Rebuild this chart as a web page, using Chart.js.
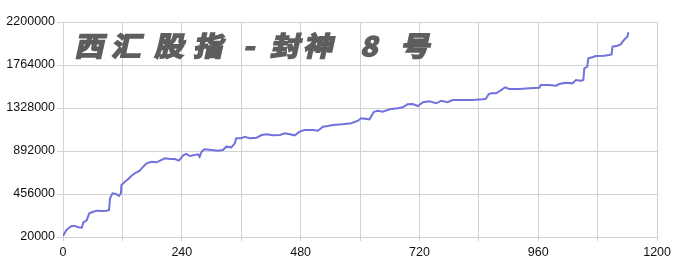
<!DOCTYPE html>
<html>
<head>
<meta charset="utf-8">
<script src="https://cdn.jsdelivr.net/npm/chart.js@4"></script>
<style>
  html, body { margin: 0; padding: 0; background: #fff; }
  #wrap { width: 675px; height: 264px; }
</style>
</head>
<body>
<div id="wrap"><canvas id="grafico" width="675" height="264"></canvas></div>
<script>
// dados
const dias = [0, 7, 17, 24, 31, 38, 41, 48, 53, 61, 68, 78, 88, 93, 95, 100, 107, 113, 117, 118,
  125, 132, 138, 145, 155, 162, 169, 179, 189, 196, 206, 216, 226, 234, 243, 249, 256, 273, 276, 280,
  286, 300, 313, 323, 330, 340, 347, 350, 360, 367, 377, 391, 401, 411, 424, 438, 448, 458, 468, 478,
  488, 505, 515, 525, 535, 545, 565, 582, 596, 602, 619, 628, 636, 646, 660, 676, 686, 696, 706, 717,
  727, 740, 754, 764, 777, 787, 807, 827, 848, 854, 860, 865, 875, 885, 893, 901, 922, 942, 962, 965,
  982, 996, 1002, 1016, 1029, 1036, 1046, 1051, 1053, 1059, 1061, 1069, 1076, 1093, 1103, 1108, 1110, 1120, 1127, 1130,
  1135, 1140, 1142];
const patrimonio = [30000, 91000, 131000, 131000, 118000, 114000, 165000, 192000, 260000, 276000, 287000, 284000, 287000, 294000, 412000, 463000, 456000, 436000, 463000, 547000,
  581000, 608000, 638000, 666000, 692000, 733000, 767000, 783000, 777000, 794000, 818000, 811000, 811000, 794000, 848000, 862000, 841000, 858000, 834000, 885000,
  909000, 902000, 895000, 902000, 936000, 929000, 970000, 1021000, 1021000, 1037000, 1021000, 1027000, 1054000, 1061000, 1051000, 1054000, 1071000, 1061000, 1051000, 1088000,
  1105000, 1105000, 1098000, 1138000, 1145000, 1156000, 1163000, 1173000, 1199000, 1224000, 1213000, 1290000, 1301000, 1290000, 1315000, 1325000, 1335000, 1365000, 1369000, 1348000,
  1386000, 1396000, 1376000, 1402000, 1386000, 1409000, 1409000, 1409000, 1416000, 1422000, 1470000, 1477000, 1477000, 1510000, 1538000, 1521000, 1521000, 1528000, 1534000, 1561000,
  1561000, 1554000, 1571000, 1584000, 1578000, 1612000, 1605000, 1612000, 1731000, 1747000, 1832000, 1842000, 1855000, 1858000, 1865000, 1872000, 1950000, 1960000, 1974000, 2000000,
  2028000, 2051000, 2096000];

const ticksX = [0, 120, 240, 360, 480, 600, 720, 840, 960, 1080, 1200];
const rotulosX = [0, 240, 480, 720, 960, 1200];
const ticksY = [20000, 456000, 892000, 1328000, 1764000, 2200000];
const titulo = ['西', '汇', '股', '指', '-', '封', '神', '8', '号'];

const corGrade = '#d2d2d2';

// titulo desenhado como marca d'agua por cima da area do grafico
const tituloPlugin = {
  id: 'titulo',
  afterDatasetsDraw(chart) {
    const c = chart.ctx;
    const centros = [91, 128, 171, 210, 251, 287, 320, 371, 417];
    c.save();
    c.fillStyle = '#5e5e5e';
    c.strokeStyle = '#5e5e5e';
    c.lineWidth = 1.8;
    c.textAlign = 'center';
    c.textBaseline = 'middle';
    c.font = 'bold 27px "Noto Sans CJK SC"';
    titulo.forEach((ch, i) => {
      c.save();
      c.translate(centros[i], 46);
      c.transform(1.08, 0, -0.22, 1, 0, 0);
      c.fillText(ch, 0, 0);
      c.strokeText(ch, 0, 0);
      c.restore();
    });
    c.restore();
  }
};

const ctx = document.getElementById('grafico').getContext('2d');
new Chart(ctx, {
  type: 'line',
  data: {
    datasets: [{
      data: dias.map((d, i) => ({ x: d, y: patrimonio[i] })),
      borderColor: '#7272de',
      borderWidth: 2,
      pointRadius: 0,
      fill: false,
      tension: 0
    }]
  },
  options: {
    responsive: false,
    animation: false,
    layout: { padding: { top: 22, right: 17, left: 0, bottom: 0 } },
    plugins: { legend: { display: false }, tooltip: { enabled: false } },
    scales: {
      x: {
        type: 'linear',
        min: 0,
        max: 1200,
        afterBuildTicks: s => { s.ticks = ticksX.map(v => ({ value: v })); },
        afterFit: s => { s.height = 27; },
        grid: { color: corGrade, tickLength: 4, tickColor: corGrade },
        border: { color: corGrade },
        ticks: {
          autoSkip: false,
          maxRotation: 0,
          padding: 4,
          color: '#111',
          font: { family: 'Liberation Sans', size: 12.5 },
          callback: v => rotulosX.includes(v) ? String(v) : ''
        }
      },
      y: {
        min: 20000,
        max: 2200000,
        afterBuildTicks: s => { s.ticks = ticksY.map(v => ({ value: v })); },
        afterFit: s => { s.width = 63; },
        grid: { color: corGrade, tickLength: 6, tickColor: corGrade },
        border: { color: corGrade },
        ticks: {
          padding: 2,
          color: '#111',
          font: { family: 'Liberation Sans', size: 12.5 },
          callback: v => String(v)
        }
      }
    }
  },
  plugins: [tituloPlugin]
});
</script>
</body>
</html>
